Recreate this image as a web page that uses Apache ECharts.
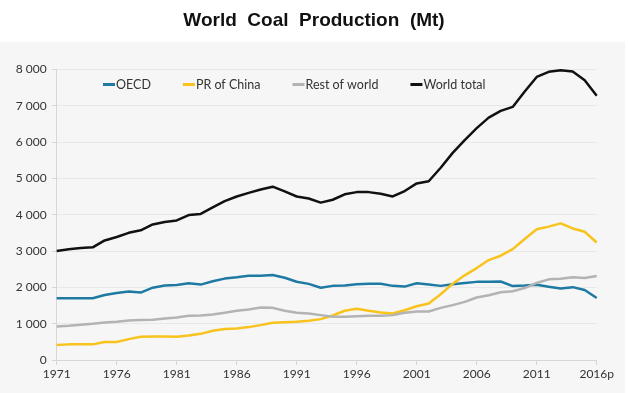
<!DOCTYPE html>
<html><head><meta charset="utf-8">
<script src="https://cdn.jsdelivr.net/npm/echarts@6/dist/echarts.min.js"></script>
<style>html,body{margin:0;padding:0;background:#fff}#c{width:628px;height:393px}</style>
</head><body><div id="c"></div>
<script>
const years = [];
for (let y = 1971; y <= 2016; y++) years.push(String(y));
const yearLabels = years.map((y, i) => i === years.length - 1 ? y + 'p' : y);
const oecd = [1700,1700,1700,1700,1790,1845,1885,1855,1990,2050,2065,2110,2075,2165,2240,2275,2320,2320,2340,2265,2155,2095,1990,2040,2050,2085,2100,2100,2040,2020,2110,2075,2040,2085,2120,2150,2150,2160,2035,2050,2070,2015,1970,2005,1925,1705];
const china = [410,430,430,430,495,495,575,640,650,650,640,675,720,805,850,870,905,960,1025,1040,1050,1080,1125,1225,1355,1410,1355,1310,1280,1370,1480,1555,1810,2100,2330,2530,2750,2870,3050,3330,3600,3670,3760,3620,3530,3235];
const rest = [925,940,970,995,1030,1050,1090,1100,1105,1140,1170,1215,1225,1250,1300,1355,1390,1445,1435,1355,1300,1280,1235,1190,1190,1205,1215,1215,1235,1300,1335,1335,1435,1510,1600,1720,1780,1865,1890,1980,2120,2220,2235,2275,2255,2310];
const world = [3000,3045,3080,3100,3290,3385,3500,3570,3730,3800,3840,3990,4020,4200,4370,4500,4600,4690,4770,4640,4500,4445,4330,4410,4560,4620,4620,4575,4500,4650,4860,4920,5290,5700,6050,6380,6670,6855,6965,7390,7790,7930,7975,7940,7700,7270];
const seriesNames = ['OECD','PR of China','Rest of world','World total'];
const colors = ['#1f7aa3','#f8c31c','#b3b3b3','#111111'];

const chart = echarts.init(document.getElementById('c'), null, {renderer:'canvas'});
const font = 'Lato, "Open Sans", sans-serif';
chart.setOption({
  animation:false,
  backgroundColor:'#ffffff',
  graphic:[{type:'rect', z:-10, shape:{x:0,y:42,width:625,height:351}, style:{fill:'#f6f6f6'}}],
  title:{text:'World  Coal  Production  (Mt)', left:'center', top:6,
    textStyle:{fontFamily:'"Liberation Sans", Arial, sans-serif', fontWeight:'bold', fontSize:19, color:'#111'}},
  legend:{top:73, left:98, itemGap:32, itemWidth:12, itemHeight:3, icon:'rect',
    textStyle:{fontFamily:font, fontSize:12.5, color:'#333', padding:[0,0,0,-4]},
    data:seriesNames},
  grid:{left:56.7, right:31.3, top:69.3, bottom:33},
  xAxis:{type:'category', data:yearLabels, boundaryGap:false,
    axisLine:{lineStyle:{color:'#d6d6d6'}},
    axisTick:{interval:4, length:5, lineStyle:{color:'#d6d6d6'}},
    axisLabel:{interval:4, color:'#333', fontFamily:font, fontSize:12, margin:8}},
  yAxis:{type:'value', min:0, max:8000, interval:1000,
    axisLine:{show:true, lineStyle:{color:'#d6d6d6'}},
    axisTick:{show:true, length:5, lineStyle:{color:'#d6d6d6'}},
    splitLine:{lineStyle:{color:'#e8e8e8'}},
    axisLabel:{color:'#333', fontFamily:font, fontSize:12, margin:10,
      formatter:v => v >= 1000 ? Math.floor(v/1000) + ' ' + String(v%1000).padStart(3,'0') : String(v)}},
  series:[oecd, china, rest, world].map((d,i)=>({
    name:seriesNames[i], type:'line', data:d, showSymbol:false, symbol:'none',
    lineStyle:{color:colors[i], width:2.5}, itemStyle:{color:colors[i]}
  }))
});
</script></body></html>
